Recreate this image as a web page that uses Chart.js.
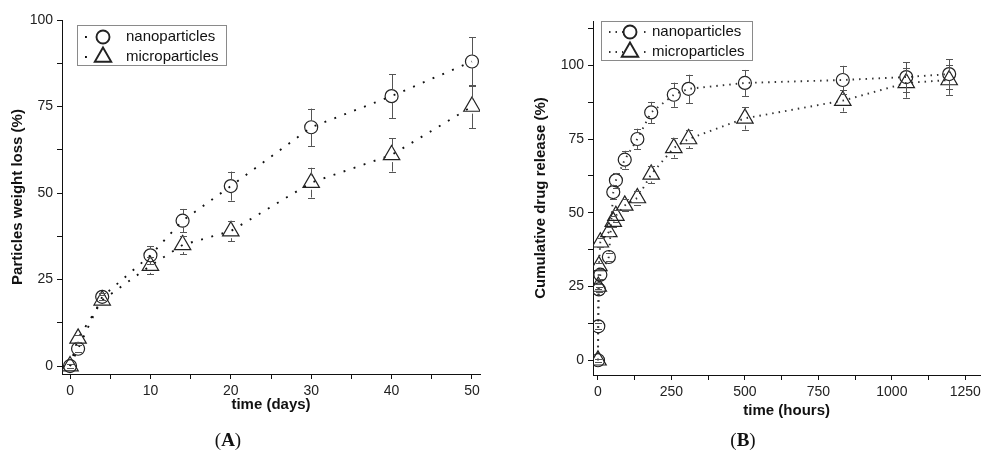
<!DOCTYPE html>
<html>
<head>
<meta charset="utf-8">
<script src="https://cdn.jsdelivr.net/npm/chart.js@4.4.1/dist/chart.umd.min.js"></script>
<style>
  body { margin:0; width:991px; height:451px; background:#fff; position:relative; overflow:hidden; }
  canvas { position:absolute; top:0; }
  #chartA { left:0; }
  #chartB { left:495px; }
  .tag { position:absolute; top:429px; font:19px "Liberation Serif", serif; color:#111; transform:translateX(-50%); }
</style>
</head>
<body>
<canvas id="chartA" width="495" height="451"></canvas>
<canvas id="chartB" width="496" height="451"></canvas>
<div class="tag" style="left:228px">(<b>A</b>)</div>
<div class="tag" style="left:743px">(<b>B</b>)</div>
<script>
// --- DATA: panel A, weight loss ---
const days = [0, 1, 4, 10, 14, 20, 30, 40, 50];
const nanoLoss = [0, 5, 20, 32, 42, 52, 69, 78, 88];
const nanoLossErr = [0.5, 1, 1, 2.6, 3.4, 4.2, 5.4, 6.3, 7];
const microLoss = [0, 8, 19, 29, 35, 39, 53, 61, 75];
const microLossErr = [0.5, 1, 1.5, 2.5, 2.7, 3, 4.3, 4.8, 6.2];
const dayTicks = [0, 5, 10, 15, 20, 25, 30, 35, 40, 45, 50];
const lossTicks = [0, 12.5, 25, 37.5, 50, 62.5, 75, 87.5, 100];

// --- DATA: panel B, drug release ---
const hours = [0, 1, 3, 8, 37, 52, 61, 91, 134, 181, 258, 308, 500, 833, 1049, 1195];
const nanoRelease = [0, 11.5, 24, 29, 35, 57, 61, 68, 75, 84, 90, 92, 94, 95, 96, 97];
const nanoReleaseErr = [0.5, 1, 1, 1.5, 1.5, 2.5, 2.5, 3, 3.5, 3.6, 4.1, 4.8, 4.4, 4.8, 5, 5];
const microRelease = [0, 25, 32, 40, 43.5, 47, 49, 52.5, 55, 63, 72, 75, 82, 88, 94, 95];
const microReleaseErr = [0.5, 1, 1, 1.5, 1.5, 2, 2, 2, 2.5, 3, 3.3, 3.2, 3.8, 3.7, 5, 5];
const hourTicks = [0, 125, 250, 375, 500, 625, 750, 875, 1000, 1125, 1250];
const releaseTicks = [0, 12.5, 25, 37.5, 50, 62.5, 75, 87.5, 100, 112.5];

const FONT = '"Liberation Sans", Arial, sans-serif';
const INK = '#111';

// error bars, split around the marker so they don't cross it
const errorBars = {
    id: 'errorBars',
    afterDatasetsDraw(chart) {
        const ctx = chart.ctx, yScale = chart.scales.y;
        ctx.save();
        chart.data.datasets.forEach((ds, di) => {
            if (!ds.errors) return;
            const meta = chart.getDatasetMeta(di);
            ctx.strokeStyle = '#555';
            ctx.lineWidth = 1;
            meta.data.forEach((pt, i) => {
                const e = ds.errors[i];
                const v = ds.data[i].y;
                const x = Math.round(pt.x) + 0.5;
                const yTop = yScale.getPixelForValue(v + e);
                const yBot = yScale.getPixelForValue(v - e);
                const r = ds.pointRadius * (ds.pointStyle === 'triangle' ? 0.75 : 1);
                ctx.beginPath();
                if (pt.y - r > yTop) { ctx.moveTo(x, yTop); ctx.lineTo(x, pt.y - r); }
                if (pt.y + r < yBot) { ctx.moveTo(x, pt.y + r); ctx.lineTo(x, yBot); }
                ctx.moveTo(x - 3.5, Math.round(yTop) + 0.5); ctx.lineTo(x + 3.5, Math.round(yTop) + 0.5);
                ctx.moveTo(x - 3.5, Math.round(yBot) + 0.5); ctx.lineTo(x + 3.5, Math.round(yBot) + 0.5);
                ctx.stroke();
            });
        });
        ctx.restore();
    }
};

// framed legend with a dotted sample around each marker
function boxLegend(o) {
    return {
        id: 'boxLegend',
        afterDraw(chart) {
            const ctx = chart.ctx;
            ctx.save();
            ctx.fillStyle = '#fff';
            ctx.fillRect(o.x, o.y, o.w, o.h);
            ctx.strokeStyle = '#8a8a8a';
            ctx.lineWidth = 1;
            ctx.strokeRect(o.x + 0.5, o.y + 0.5, o.w, o.h);
            chart.data.datasets.forEach((ds, i) => {
                const y = o.y + o.row0 + i * o.rowGap;
                ctx.strokeStyle = ds.borderColor;
                ctx.lineWidth = ds.borderWidth;
                ctx.setLineDash(ds.borderDash);
                o.segments.forEach(([a, b]) => {
                    ctx.beginPath(); ctx.moveTo(a, y); ctx.lineTo(b, y); ctx.stroke();
                });
                ctx.setLineDash([]);
                ctx.strokeStyle = ds.pointBorderColor;
                ctx.fillStyle = 'rgba(0,0,0,0)';
                Chart.helpers.drawPoint(ctx, { pointStyle: ds.pointStyle, radius: ds.pointRadius, borderWidth: ds.pointBorderWidth, rotation: 0 }, o.markerX, y);
                ctx.fillStyle = INK;
                ctx.font = '15px ' + FONT;
                ctx.textBaseline = 'middle';
                ctx.fillText(ds.label, o.textX, y);
            });
            ctx.restore();
        }
    };
}

function series(label, xs, ys, errs, style, lineColor, dash) {
    const r = style === 'circle' ? 6.5 : 9.5;
    return {
        label: label,
        data: xs.map((x, i) => ({ x: x, y: ys[i] })),
        errors: errs,
        showLine: true,
        borderColor: lineColor,
        borderWidth: 1.9,
        borderDash: dash,
        pointStyle: style,
        pointRadius: r,
        pointHoverRadius: r,
        pointBorderColor: '#222',
        pointBorderWidth: 1.2,
        pointBackgroundColor: 'rgba(0,0,0,0)',
        tension: 0
    };
}

function axis(min, max, tickList, labelEvery, fit, titleText, titlePad) {
    return {
        type: 'linear', min: min, max: max,
        afterBuildTicks: s => { s.ticks = tickList.map(v => ({ value: v })); },
        afterFit: fit,
        grid: { drawOnChartArea: false, tickLength: 5, tickColor: INK, tickWidth: 1 },
        border: { color: INK, width: 1 },
        ticks: {
            padding: 4, color: '#222', autoSkip: false, maxRotation: 0,
            font: { family: FONT, size: 14 },
            callback: v => (v % labelEvery === 0 ? v : '')
        },
        title: { display: true, text: titleText, color: INK, padding: titlePad, font: { family: FONT, size: 15, weight: 'bold' } }
    };
}

const baseOpts = {
    responsive: false,
    animation: false,
    plugins: { legend: { display: false }, tooltip: { enabled: false } }
};

// --- PANEL A ---
new Chart(document.getElementById('chartA'), {
    type: 'scatter',
    data: {
        datasets: [
            series('nanoparticles', days, nanoLoss, nanoLossErr, 'circle', '#111', [1.9, 8.7]),
            series('microparticles', days, microLoss, microLossErr, 'triangle', '#111', [1.9, 8.7])
        ]
    },
    options: Object.assign({}, baseOpts, {
        layout: { padding: { top: 20, right: 15, bottom: 37, left: 0 } },
        scales: {
            x: axis(-1, 51, dayTicks, 10, s => { s.height = 40; }, 'time (days)', 0),
            y: axis(-2.3, 100, lossTicks, 25, s => { s.width = 62; }, 'Particles weight loss (%)', { top: 9, bottom: 0 })
        }
    }),
    plugins: [errorBars, boxLegend({ x: 77, y: 25, w: 149, h: 40, row0: 12, rowGap: 20, segments: [[85, 87]], markerX: 103, textX: 126 })]
});

// --- PANEL B ---
new Chart(document.getElementById('chartB'), {
    type: 'scatter',
    data: {
        datasets: [
            series('nanoparticles', hours, nanoRelease, nanoReleaseErr, 'circle', '#333', [1.5, 5]),
            series('microparticles', hours, microRelease, microReleaseErr, 'triangle', '#333', [1.5, 5])
        ]
    },
    options: Object.assign({}, baseOpts, {
        layout: { padding: { top: 21, right: 2, bottom: 31, left: 0 } },
        scales: {
            x: axis(-17, 1301, hourTicks, 250, s => { s.height = 45; }, 'time (hours)', 0),
            y: axis(-5, 115, releaseTicks, 25, s => { s.width = 98; }, 'Cumulative drug release (%)', { top: 37, bottom: 0 })
        }
    }),
    plugins: [errorBars, boxLegend({ x: 106, y: 21, w: 151, h: 39, row0: 11, rowGap: 20, segments: [[114, 128], [149, 151]], markerX: 135, textX: 157 })]
});
</script>
</body>
</html>
